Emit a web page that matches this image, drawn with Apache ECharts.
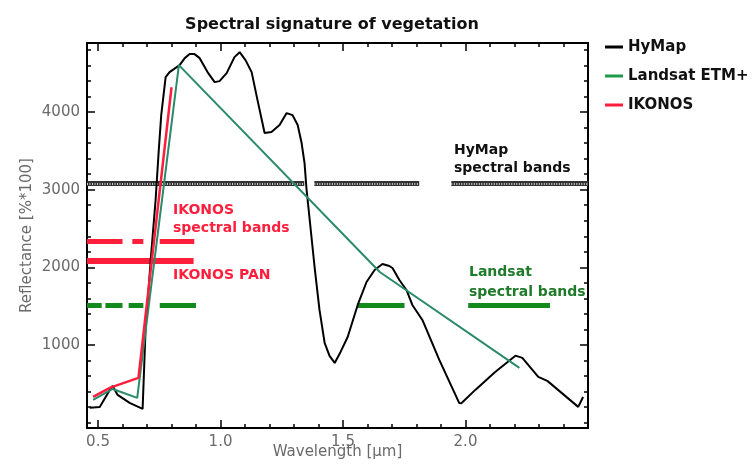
<!DOCTYPE html>
<html>
<head>
<meta charset="utf-8">
<script src="https://cdn.jsdelivr.net/npm/echarts@6/dist/echarts.min.js"></script>
<style>
  html, body { margin: 0; padding: 0; background: #fff; }
  #chart { width: 756px; height: 464px; }
</style>
</head>
<body>
<div id="chart"></div>
<script>
// HyMap spectrum (wavelength in um, reflectance in %*100)
const hymapWl = [0.466, 0.507, 0.548, 0.560, 0.580, 0.629, 0.682, 0.694, 0.715, 0.735,
  0.748, 0.758, 0.776, 0.792, 0.833, 0.854, 0.874, 0.894, 0.915, 0.947,
  0.976, 0.996, 1.025, 1.057, 1.078, 1.102, 1.127, 1.151, 1.180, 1.208,
  1.241, 1.270, 1.294, 1.315, 1.331, 1.343, 1.351, 1.384, 1.404, 1.425,
  1.445, 1.466, 1.490, 1.519, 1.560, 1.596, 1.629, 1.661, 1.689, 1.702,
  1.730, 1.759, 1.783, 1.824, 1.893, 1.974, 1.983, 2.040, 2.121, 2.204,
  2.232, 2.297, 2.334, 2.460, 2.480];
const hymapRefl = [190, 202, 421, 472, 356, 253, 176, 1193, 2094, 2867,
  3511, 3961, 4450, 4515, 4605, 4695, 4747, 4747, 4695, 4515,
  4386, 4399, 4502, 4708, 4772, 4669, 4515, 4154, 3730, 3742,
  3833, 3987, 3961, 3833, 3601, 3343, 3009, 2004, 1451, 1026,
  858, 768, 910, 1103, 1515, 1811, 1966, 2043, 2017, 1991,
  1837, 1708, 1515, 1322, 807, 253, 249, 421, 652, 862,
  833, 588, 537, 202, 330];

// Landsat ETM+ band responses
const landsatWl = [0.48, 0.56, 0.66, 0.83, 1.65, 2.22];
const landsatRefl = [292, 433, 318, 4605, 1940, 704];

// IKONOS band responses
const ikonosWl = [0.48, 0.55, 0.665, 0.80];
const ikonosRefl = [330, 450, 575, 4320];

// spectral band ranges drawn as bars
const hymapBands = [[0.455, 1.342], [1.383, 1.811], [1.942, 2.5]];
const hymapBandLevel = 3082;
const ikonosBands = [[0.455, 0.60], [0.64, 0.685], [0.752, 0.893]];
const ikonosBandLevel = 2330;
const ikonosPan = [[0.455, 0.89]];
const ikonosPanLevel = 2080;
const landsatBands = [[0.455, 0.515], [0.53, 0.60], [0.625, 0.685], [0.752, 0.90], [1.559, 1.751], [2.011, 2.345]];
const landsatBandLevel = 1515;

// axis ticks
const xMajor = [0.5, 1.0, 1.5, 2.0];
const xMinor = [0.6, 0.7, 0.8, 0.9, 1.1, 1.2, 1.3, 1.4, 1.6, 1.7, 1.8, 1.9, 2.1, 2.2, 2.3, 2.4];
const yMajor = [1000, 2000, 3000, 4000];
const yMinor = [0, 200, 400, 600, 800, 1200, 1400, 1600, 1800, 2200, 2400, 2600, 2800,
  3200, 3400, 3600, 3800, 4200, 4400, 4600, 4800];

const X_MIN = 0.455, X_MAX = 2.5;
const Y_MIN = -70, Y_MAX = 4890;

const chart = echarts.init(document.getElementById('chart'));

const zip = (xs, ys) => xs.map((x, i) => [x, ys[i]]);
const bandLines = (ranges, level) => ranges.map(r => ({ coords: [[r[0], level], [r[1], level]] }));

const tickFont = { color: '#6a6a6a', fontSize: 15, fontFamily: 'DejaVu Sans' };

// builds one x/y axis that only draws ticks (major or minor)
const makeAxis = (pos, min, max, values, len, labelFmt, extra) => Object.assign({
  type: 'value',
  position: pos,
  min: min,
  max: max,
  splitLine: { show: false },
  axisLine: { show: true, onZero: false, lineStyle: { color: '#000', width: 2 } },
  axisTick: { show: true, inside: true, length: len, customValues: values, lineStyle: { color: '#000', width: 1.5 } },
  axisLabel: labelFmt
    ? Object.assign({ show: true, customValues: values, margin: 7, formatter: labelFmt }, tickFont)
    : { show: false }
}, extra || {});

const bandSeries = (name, data, color, width, extraStyle) => ({
  name: name,
  type: 'lines',
  coordinateSystem: 'cartesian2d',
  polyline: false,
  silent: true,
  z: 1,
  lineStyle: Object.assign({ color: color, width: width, opacity: 1, cap: 'butt' }, extraStyle || {}),
  data: data
});

const option = {
  animation: false,
  backgroundColor: '#fff',
  title: {
    text: 'Spectral signature of vegetation',
    left: 327,
    textAlign: 'center',
    top: 12,
    textStyle: { fontSize: 16, fontWeight: 'bold', color: '#111', fontFamily: 'DejaVu Sans' }
  },
  legend: {
    orient: 'vertical',
    left: 600,
    top: 33,
    icon: 'rect',
    itemWidth: 18,
    itemHeight: 3,
    itemGap: 11,
    data: ['HyMap', 'Landsat ETM+', 'IKONOS'],
    textStyle: { fontSize: 15, fontWeight: 'bold', color: '#111', fontFamily: 'DejaVu Sans', lineHeight: 18 }
  },
  grid: { left: 87, right: 168, top: 43, bottom: 36, outerBoundsMode: 'none' },
  xAxis: [
    makeAxis('bottom', X_MIN, X_MAX, xMajor, 8, v => v.toFixed(1), {
      name: 'Wavelength [\u03bcm]',
      nameLocation: 'middle',
      nameGap: 17,
      nameMoveOverlap: false,
      nameTextStyle: { color: '#6a6a6a', fontSize: 15, fontFamily: 'DejaVu Sans' }
    }),
    makeAxis('bottom', X_MIN, X_MAX, xMinor, 4, null),
    makeAxis('top', X_MIN, X_MAX, xMajor, 8, null),
    makeAxis('top', X_MIN, X_MAX, xMinor, 4, null)
  ],
  yAxis: [
    makeAxis('left', Y_MIN, Y_MAX, yMajor, 8, v => String(v), {
      name: 'Reflectance [%*100]',
      nameLocation: 'middle',
      nameGap: 52,
      nameMoveOverlap: false,
      nameTextStyle: { color: '#6a6a6a', fontSize: 15, fontFamily: 'DejaVu Sans' }
    }),
    makeAxis('left', Y_MIN, Y_MAX, yMinor, 4, null),
    makeAxis('right', Y_MIN, Y_MAX, yMajor, 8, null),
    makeAxis('right', Y_MIN, Y_MAX, yMinor, 4, null)
  ],
  series: [
    bandSeries('hymapBandsBase', bandLines(hymapBands, hymapBandLevel), '#333', 5),
    bandSeries('hymapBandsDots', bandLines(hymapBands, hymapBandLevel), '#c8c8c8', 2, { type: [1, 1.5] }),
    bandSeries('ikonosBands', bandLines(ikonosBands, ikonosBandLevel), '#ff1f3d', 5),
    bandSeries('ikonosPan', bandLines(ikonosPan, ikonosPanLevel), '#ff1f3d', 6),
    bandSeries('landsatBands', bandLines(landsatBands, landsatBandLevel), '#138a1e', 5),
    {
      name: 'HyMap',
      type: 'line',
      data: zip(hymapWl, hymapRefl),
      symbol: 'none',
      z: 3,
      color: '#000',
      lineStyle: { color: '#000', width: 2 }
    },
    {
      name: 'Landsat ETM+',
      type: 'line',
      data: zip(landsatWl, landsatRefl),
      symbol: 'none',
      z: 4,
      color: '#1f9a4a',
      lineStyle: { color: '#2a8a6a', width: 2 }
    },
    {
      name: 'IKONOS',
      type: 'line',
      data: zip(ikonosWl, ikonosRefl),
      symbol: 'none',
      z: 5,
      color: '#ff1f3d',
      lineStyle: { color: '#ff1f3d', width: 2.5 }
    }
  ],
  graphic: [
    { type: 'text', left: 454, top: 141, style: { text: 'HyMap\nspectral bands', fill: '#111', font: 'bold 14px "DejaVu Sans"', lineHeight: 18 } },
    { type: 'text', left: 173, top: 201, style: { text: 'IKONOS\nspectral bands', fill: '#ff1f3d', font: 'bold 14px "DejaVu Sans"', lineHeight: 18 } },
    { type: 'text', left: 173, top: 268, style: { text: 'IKONOS PAN', fill: '#ff1f3d', font: 'bold 14px "DejaVu Sans"' } },
    { type: 'text', left: 469, top: 262, style: { text: 'Landsat\nspectral bands', fill: '#1f7a2a', font: 'bold 14px "DejaVu Sans"', lineHeight: 20 } }
  ]
};

chart.setOption(option);
</script>
</body>
</html>
